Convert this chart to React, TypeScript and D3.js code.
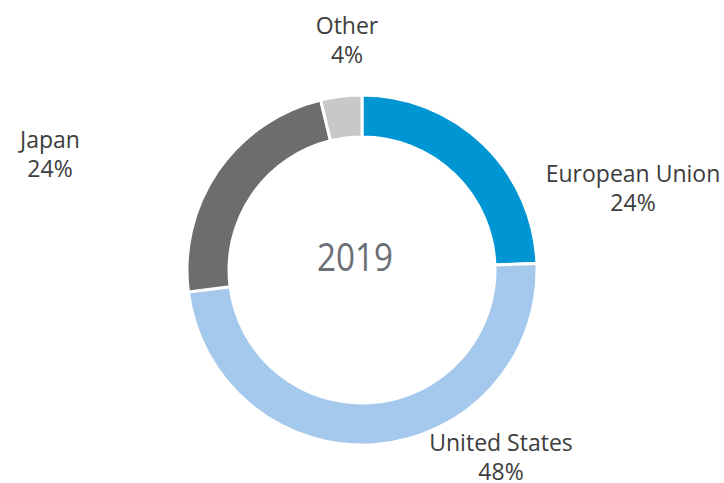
import React from "react";
import * as d3 from "d3";

const categories = ["European Union", "United States", "Japan", "Other"];
const values = [24.4, 48.6, 23.2, 3.8];
const percentLabels = ["24%", "48%", "24%", "4%"];
const colors = ["#0095d3", "#a5c9ec", "#6d6d6d", "#c8c8c8"];
const centerLabel = "2019";

const W = 724;
const H = 483;
const cx = 362;
const cy = 270;
const outerR = 175;
const innerR = 133;
// label placement relative to donut center (first-line baseline)
const labelOffsets: [number, number][] = [
  [271, -88],
  [139, 181],
  [-312, -122],
  [-15, -236],
];
const lineGap = 29;

export default function App() {
  const pie = d3.pie<number>().sort(null).value((d) => d);
  const arcs = pie(values);
  const arc = d3.arc<d3.PieArcDatum<number>>().innerRadius(innerR).outerRadius(outerR);
  const font = "'Open Sans', sans-serif";
  return (
    <svg width={W} height={H} style={{ position: "absolute", left: 0, top: 0 }}>
      <rect width={W} height={H} fill="#fff" />
      <g transform={`translate(${cx},${cy})`}>
        {arcs.map((a, i) => (
          <path key={i} d={arc(a) || ""} fill={colors[i]} stroke="#fff" strokeWidth={3} />
        ))}
        <text x={-7} y={1} textAnchor="middle" fontFamily={font} fontSize={39} fill="#6b6e75"
          textLength={76} lengthAdjust="spacingAndGlyphs">
          {centerLabel}
        </text>
        {categories.map((c, i) => (
          <text key={c} textAnchor="middle" fontFamily={font} fontSize={23} fontWeight={500} fill="#3d3d3d"
            transform={`translate(${labelOffsets[i][0]},${labelOffsets[i][1]})`}>
            <tspan x={0} y={0}>{c}</tspan>
            <tspan x={0} y={lineGap}>{percentLabels[i]}</tspan>
          </text>
        ))}
      </g>
    </svg>
  );
}
